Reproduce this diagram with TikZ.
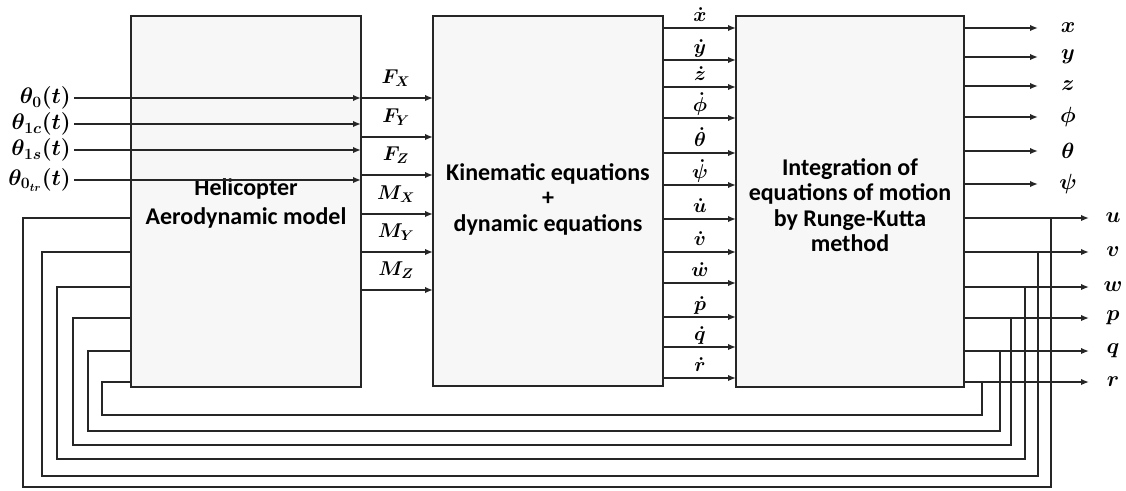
\RequirePackage{fix-cm}
\documentclass[tikz,border=0pt]{standalone}
\usepackage{fontspec}
\setmainfont{Carlito}
\usepackage{amsmath}
\usetikzlibrary{arrows.meta}
\begin{document}
\begin{tikzpicture}[x=1pt,y=-1pt,
  blk/.style={draw=black!85,line width=1.6pt,fill=black!3},
  ln/.style={line width=1.6pt,draw=black!85},
  arr/.style={ln,-{Latex[length=8pt,width=6.5pt]}},
  btxt/.style={font=\fontsize{24}{25.5}\selectfont\bfseries,align=center},
  lab/.style={font=\fontsize{20}{22}\selectfont\boldmath,inner sep=0pt},
  inlab/.style={font=\fontsize{22.5}{24}\selectfont\boldmath,inner sep=0pt},
  outlab/.style={font=\fontsize{22}{24}\selectfont\boldmath,inner sep=0pt},
]
\useasboundingbox (0,0) rectangle (1126,490);
\coordinate (A1) at (131,16); \coordinate (A2) at (361,387);
\coordinate (B1) at (433,16); \coordinate (B2) at (663,386);
\coordinate (C1) at (736,16); \coordinate (C2) at (964,387);
\path[blk] (A1) rectangle (A2);
\path[blk] (B1) rectangle (B2);
\path[blk] (C1) rectangle (C2);
\node[btxt,font=\fontsize{24}{29}\selectfont\bfseries] (ta) at (246,203) {Helicopter\\Aerodynamic model};
\node[btxt] (tb) at (548,199) {Kinematic equations\\+\\dynamic equations};
\node[btxt] (tc) at (850,205) {Integration of\\equations of motion\\by Runge-Kutta\\method};
% inputs
\foreach \y/\t [count=\i] in {98/{\theta_0(t)},124/{\theta_{1c}(t)},150/{\theta_{1s}(t)},180/{\theta_{0_{tr}}(t)}}{
  \node[inlab,anchor=east] (in\i) at (71,\y) {$\t$};
  \coordinate (is\i) at (74,\y);
  \draw[arr] (is\i) -- (is\i -| A2);
}
% forces and moments
\foreach \y/\t [count=\i] in {98/F_X,137/F_Y,175/F_Z,214/M_X,252/M_Y,290/M_Z}{
  \coordinate (fs\i) at (361,\y);
  \draw[arr] (fs\i) -- (fs\i -| B1);
  \node[lab] (fl\i) at (396,\y-20) {$\t$};
}
% derivatives
\foreach \y/\t [count=\i] in {28/\dot x,60/\dot y,87/\dot z,118/\dot\phi,153/\dot\theta,185/\dot\psi,219/\dot u,252/\dot v,283/\dot w,317/\dot p,347/\dot q,378/\dot r}{
  \coordinate (ds\i) at (663,\y);
  \draw[arr] (ds\i) -- (ds\i -| C1);
  \node[lab,anchor=base] (dl\i) at (700,\y-7) {$\t$};
}
% position / attitude outputs
\foreach \y/\t [count=\i] in {28/x,57/y,86/z,117/\phi,151/\theta,184/\psi}{
  \coordinate (os\i) at (964,\y);
  \coordinate (oe\i) at (1038,\y);
  \draw[arr] (os\i) -- (oe\i);
  \node[outlab] (ol\i) at (1068,\y) {$\t$};
}
% velocity / rate outputs with feedback
\foreach \y/\t/\xr/\yb/\xl [count=\i] in {218/u/1051/487/23,252/v/1038/476/42,287/w/1025/459/57,318/p/1011/445/73,351/q/1000/431/88,382/r/982/415/102}{
  \coordinate (vs\i) at (964,\y);
  \coordinate (ve\i) at (1089,\y);
  \coordinate (j\i) at (\xr,\y);
  \coordinate (b\i) at (\xr,\yb);
  \coordinate (bl\i) at (\xl,\yb);
  \coordinate (tl\i) at (\xl,\y);
  \draw[arr] (vs\i) -- (ve\i);
  \node[outlab] (vl\i) at (1113,\y) {$\t$};
  \draw[ln] (j\i) -- (b\i) -- (bl\i) -- (tl\i) -- (tl\i -| A1);
}
\end{tikzpicture}
\end{document}
